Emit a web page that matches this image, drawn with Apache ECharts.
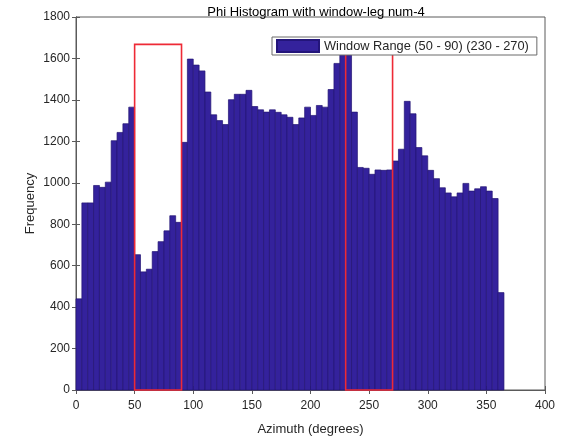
<!DOCTYPE html>
<html>
<head>
<meta charset="utf-8">
<script src="https://cdn.jsdelivr.net/npm/echarts@6/dist/echarts.min.js"></script>
<style>html,body{margin:0;padding:0;background:#fff}#c{width:562px;height:441px}</style>
</head>
<body>
<div id="c"></div>
<script>
// ---- data ----
const binWidth = 5;              // degrees per histogram bin
const binCounts = [
  440, 903, 903, 987, 978, 1003, 1203, 1243, 1285, 1365,
  653, 570, 583, 668, 716, 768, 841, 809, 1195, 1597,
  1568, 1540, 1438, 1328, 1300, 1281, 1401, 1427, 1427, 1446,
  1368, 1352, 1341, 1352, 1340, 1328, 1316, 1281, 1313, 1365,
  1325, 1373, 1365, 1450, 1576, 1620, 1644, 1341, 1074, 1070,
  1041, 1062, 1060, 1062, 1105, 1162, 1393, 1333, 1170, 1130,
  1060, 1020, 976, 951, 932, 951, 997, 960, 971, 981,
  960, 924, 470
];
const windowRanges = [[50, 90], [230, 270]];
const windowHeight = 1668;
const xTicks = [0, 50, 100, 150, 200, 250, 300, 350, 400];
const yTicks = [0, 200, 400, 600, 800, 1000, 1200, 1400, 1600, 1800];
const titleText = 'Phi Histogram with window-leg num-4';
const legendText = 'Window Range (50 - 90) (230 - 270)';

const histData = binCounts.map((v, i) => [i * binWidth, (i + 1) * binWidth, v]);
const font = 'Liberation Sans, Arial, Helvetica, sans-serif';
const axisCol = '#5a5a5a';
const textCol = '#262626';

const chart = echarts.init(document.getElementById('c'), null, {renderer: 'canvas'});
chart.setOption({
  animation: false,
  backgroundColor: '#fff',
  title: {
    text: titleText, left: 311, top: 1, textAlign: 'center',
    textStyle: {fontFamily: font, fontSize: 13, fontWeight: 'normal', color: '#000'}
  },
  legend: {
    data: [{name: legendText, icon: 'rect'}],
    left: 272, top: 37, itemWidth: 42, itemHeight: 12, itemGap: 4,
    padding: [2, 8, 2, 4],
    backgroundColor: '#fff', borderColor: '#6a6a6a', borderWidth: 1,
    textStyle: {fontFamily: font, fontSize: 12.8, color: textCol},
    z: 10
  },
  grid: {left: 76, right: 17, top: 17, bottom: 50, show: true, borderColor: axisCol, borderWidth: 1},
  xAxis: [{
    type: 'value', min: xTicks[0], max: xTicks[xTicks.length - 1], interval: 50,
    name: 'Azimuth (degrees)', nameLocation: 'middle', nameGap: 33,
    nameTextStyle: {fontFamily: font, fontSize: 13, color: textCol},
    axisLine: {show: true, lineStyle: {color: axisCol}},
    axisTick: {show: true, inside: true, length: 4, lineStyle: {color: axisCol}},
    axisLabel: {fontFamily: font, fontSize: 12, color: textCol, margin: 10},
    splitLine: {show: false}
  }, {
    type: 'value', position: 'top', min: xTicks[0], max: xTicks[xTicks.length - 1], interval: 50,
    axisLine: {show: true, lineStyle: {color: axisCol}},
    axisTick: {show: true, inside: true, length: 4, lineStyle: {color: axisCol}},
    axisLabel: {show: false}, splitLine: {show: false}
  }],
  yAxis: [{
    type: 'value', min: yTicks[0], max: yTicks[yTicks.length - 1], interval: 200,
    name: 'Frequency', nameLocation: 'middle', nameGap: 39, nameMoveOverlap: false,
    nameTextStyle: {fontFamily: font, fontSize: 13, color: textCol},
    axisLine: {show: true, lineStyle: {color: axisCol}},
    axisTick: {show: true, inside: true, length: 4, lineStyle: {color: axisCol}},
    axisLabel: {fontFamily: font, fontSize: 12, color: textCol, margin: 6,
      formatter: function (v) { return String(v); }},
    splitLine: {show: false}
  }, {
    type: 'value', position: 'right', min: yTicks[0], max: yTicks[yTicks.length - 1], interval: 200,
    axisLine: {show: true, lineStyle: {color: axisCol}},
    axisTick: {show: true, inside: true, length: 4, lineStyle: {color: axisCol}},
    axisLabel: {show: false}, splitLine: {show: false}
  }],
  series: [{
    name: legendText,
    type: 'custom',
    xAxisIndex: 0, yAxisIndex: 0,
    itemStyle: {color: '#34229c', borderColor: '#23157a', borderWidth: 0.6},
    renderItem: function (params, api) {
      const p0 = api.coord([api.value(0), api.value(2)]);
      const p1 = api.coord([api.value(1), 0]);
      return {
        type: 'rect',
        shape: {x: p0[0], y: p0[1], width: p1[0] - p0[0], height: p1[1] - p0[1]},
        style: {fill: '#34229c', stroke: '#221472', lineWidth: 0.7}
      };
    },
    encode: {x: [0, 1], y: 2},
    data: histData,
    z: 2
  }, {
    name: 'windows',
    type: 'custom',
    xAxisIndex: 0, yAxisIndex: 0,
    renderItem: function (params, api) {
      const p0 = api.coord([api.value(0), windowHeight]);
      const p1 = api.coord([api.value(1), 0]);
      return {
        type: 'rect',
        shape: {x: p0[0], y: p0[1], width: p1[0] - p0[0], height: p1[1] - p0[1]},
        style: {fill: 'none', stroke: '#ee2a36', lineWidth: 1.6}
      };
    },
    encode: {x: [0, 1]},
    data: windowRanges,
    z: 3
  }]
});
</script>
</body>
</html>
